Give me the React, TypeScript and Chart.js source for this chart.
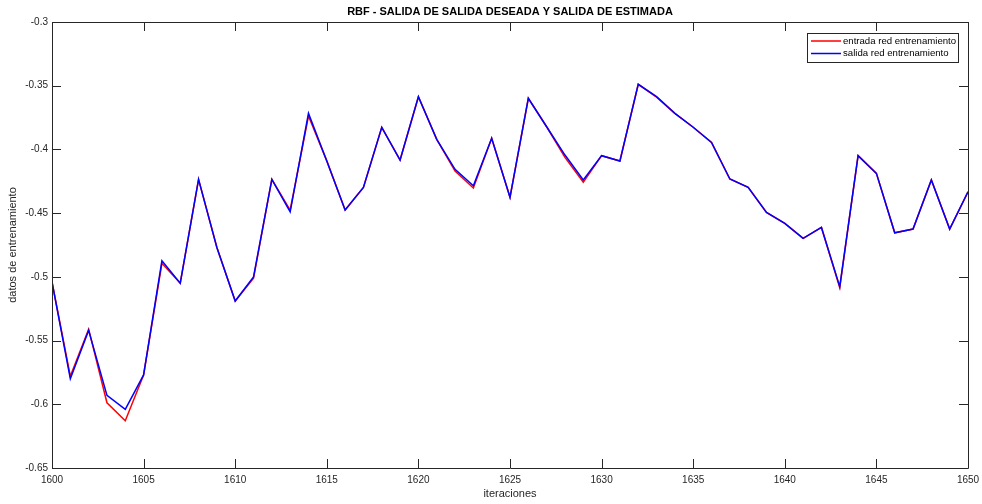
import React, { useEffect, useRef } from "react";
import { Chart, registerables } from "chart.js";

Chart.register(...registerables);

const iteraciones = [
  1600, 1601, 1602, 1603, 1604, 1605, 1606, 1607, 1608, 1609,
  1610, 1611, 1612, 1613, 1614, 1615, 1616, 1617, 1618, 1619,
  1620, 1621, 1622, 1623, 1624, 1625, 1626, 1627, 1628, 1629,
  1630, 1631, 1632, 1633, 1634, 1635, 1636, 1637, 1638, 1639,
  1640, 1641, 1642, 1643, 1644, 1645, 1646, 1647, 1648, 1649, 1650,
];

const entradaRed = [
  -0.504, -0.578, -0.541, -0.5988, -0.6129, -0.577, -0.4894, -0.505, -0.4235, -0.477,
  -0.519, -0.501, -0.4235, -0.4476, -0.3738, -0.409, -0.4476, -0.4298, -0.3827, -0.4083,
  -0.3586, -0.3921, -0.417, -0.4303, -0.3913, -0.4376, -0.3599, -0.3822, -0.4062, -0.4258,
  -0.4049, -0.4091, -0.3489, -0.359, -0.3717, -0.3826, -0.3945, -0.4232, -0.4298, -0.4494,
  -0.458, -0.4698, -0.4612, -0.5085, -0.4049, -0.4188, -0.4654, -0.4625, -0.424, -0.4625, -0.4332,
];

const salidaRed = [
  -0.504, -0.58, -0.542, -0.593, -0.604, -0.577, -0.4873, -0.505, -0.4235, -0.477,
  -0.519, -0.5, -0.4235, -0.449, -0.3717, -0.409, -0.4476, -0.4298, -0.3827, -0.4083,
  -0.3586, -0.3921, -0.4156, -0.4285, -0.3913, -0.4376, -0.3599, -0.3822, -0.4044, -0.424,
  -0.4049, -0.4091, -0.3489, -0.3586, -0.3717, -0.3826, -0.3945, -0.4232, -0.4298, -0.4494,
  -0.458, -0.4698, -0.4612, -0.5077, -0.4049, -0.4188, -0.4654, -0.4625, -0.424, -0.4625, -0.4332,
];

const xTicks = [1600, 1605, 1610, 1615, 1620, 1625, 1630, 1635, 1640, 1645, 1650];
const yTicks = [-0.65, -0.6, -0.55, -0.5, -0.45, -0.4, -0.35, -0.3];

const titulo = "RBF - SALIDA DE SALIDA DESEADA Y SALIDA DE ESTIMADA";
const xTitulo = "iteraciones";
const yTitulo = "datos de entrenamiento";
const leyenda = ["entrada red entrenamiento", "salida red entrenamiento"];
const colores = ["#ff0000", "#0000ff"];

const AXIS = "#262626";
const FONT = "Arial, 'Liberation Sans', Helvetica, sans-serif";

const decorPlugin = {
  id: "decor",
  afterDraw(chart: any) {
    const { ctx, chartArea } = chart;
    const { left, right, top, bottom } = chartArea;
    const xs = chart.scales.x;
    const ys = chart.scales.y;
    ctx.save();
    ctx.strokeStyle = AXIS;
    ctx.lineWidth = 1;
    ctx.beginPath();
    ctx.rect(Math.round(left) + 0.5, Math.round(top) + 0.5, Math.round(right - left), Math.round(bottom - top));
    ctx.stroke();
    const tl = 9;
    ctx.beginPath();
    xTicks.forEach((v) => {
      const px = Math.round(xs.getPixelForValue(v)) + 0.5;
      ctx.moveTo(px, bottom);
      ctx.lineTo(px, bottom - tl);
      ctx.moveTo(px, top);
      ctx.lineTo(px, top + tl);
    });
    yTicks.forEach((v) => {
      const py = Math.round(ys.getPixelForValue(v)) + 0.5;
      ctx.moveTo(left, py);
      ctx.lineTo(left + tl, py);
      ctx.moveTo(right, py);
      ctx.lineTo(right - tl, py);
    });
    ctx.stroke();

    // title
    ctx.fillStyle = "#000";
    ctx.font = `bold 11px ${FONT}`;
    ctx.textAlign = "center";
    ctx.textBaseline = "middle";
    ctx.fillText(titulo, (left + right) / 2, 12);

    // axis titles
    ctx.fillStyle = AXIS;
    ctx.font = `11px ${FONT}`;
    ctx.fillText(xTitulo, (left + right) / 2, 494);
    ctx.save();
    ctx.translate(13, (top + bottom) / 2);
    ctx.rotate(-Math.PI / 2);
    ctx.fillText(yTitulo, 0, 0);
    ctx.restore();

    // legend
    const lx = 807, ly = 33, lw = 151, lh = 29;
    ctx.fillStyle = "#fff";
    ctx.fillRect(lx, ly, lw, lh);
    ctx.strokeStyle = AXIS;
    ctx.strokeRect(lx + 0.5, ly + 0.5, lw, lh);
    ctx.font = `9.6px ${FONT}`;
    ctx.textAlign = "left";
    ctx.textBaseline = "middle";
    leyenda.forEach((t, i) => {
      const yy = 41 + i * 12.5;
      ctx.strokeStyle = colores[i];
      ctx.lineWidth = 1.5;
      ctx.beginPath();
      ctx.moveTo(811, yy);
      ctx.lineTo(841, yy);
      ctx.stroke();
      ctx.fillStyle = "#000";
      ctx.fillText(t, 843, yy);
    });
    ctx.restore();
  },
};

export default function App() {
  const ref = useRef<HTMLCanvasElement>(null);
  useEffect(() => {
    document.body.style.margin = "0";
    const canvas = ref.current;
    if (!canvas) return;
    const chart = new Chart(canvas, {
      type: "line",
      data: {
        datasets: [
          {
            label: leyenda[0],
            data: iteraciones.map((x, i) => ({ x, y: entradaRed[i] })),
            borderColor: colores[0],
            borderWidth: 1.5,
            pointRadius: 0,
            tension: 0,
            fill: false,
            order: 1,
          },
          {
            label: leyenda[1],
            data: iteraciones.map((x, i) => ({ x, y: salidaRed[i] })),
            borderColor: colores[1],
            borderWidth: 1.5,
            pointRadius: 0,
            tension: 0,
            fill: false,
            order: 0,
          },
        ],
      },
      options: {
        animation: false,
        responsive: true,
        maintainAspectRatio: false,
        layout: { padding: { top: 22, right: 14, left: 0, bottom: 0 } },
        plugins: {
          legend: { display: false },
          title: { display: false },
          tooltip: { enabled: false },
        },
        scales: {
          x: {
            type: "linear",
            min: 1600,
            max: 1650,
            afterFit: (s: any) => {
              s.height = 36;
              s.paddingLeft = 0;
              s.paddingRight = 0;
            },
            afterBuildTicks: (s: any) => {
              s.ticks = xTicks.map((v) => ({ value: v }));
            },
            grid: { display: false, drawTicks: false },
            border: { display: false },
            ticks: {
              padding: 6,
              color: AXIS,
              font: { family: FONT, size: 10 },
              maxRotation: 0,
              callback: (v: any) => String(v),
            },
          },
          y: {
            type: "linear",
            min: -0.65,
            max: -0.3,
            afterFit: (s: any) => {
              s.width = 52;
              s.paddingTop = 0;
              s.paddingBottom = 0;
            },
            afterBuildTicks: (s: any) => {
              s.ticks = yTicks.map((v) => ({ value: v }));
            },
            grid: { display: false, drawTicks: false },
            border: { display: false },
            ticks: {
              padding: 4,
              color: AXIS,
              font: { family: FONT, size: 10 },
              callback: (v: any) => String(Number(Number(v).toFixed(2))),
            },
          },
        },
      },
      plugins: [decorPlugin],
    });
    return () => chart.destroy();
  }, []);
  return (
    <div style={{ position: "absolute", left: 0, top: 0, width: 982, height: 504, background: "#fff" }}>
      <canvas ref={ref} />
    </div>
  );
}
